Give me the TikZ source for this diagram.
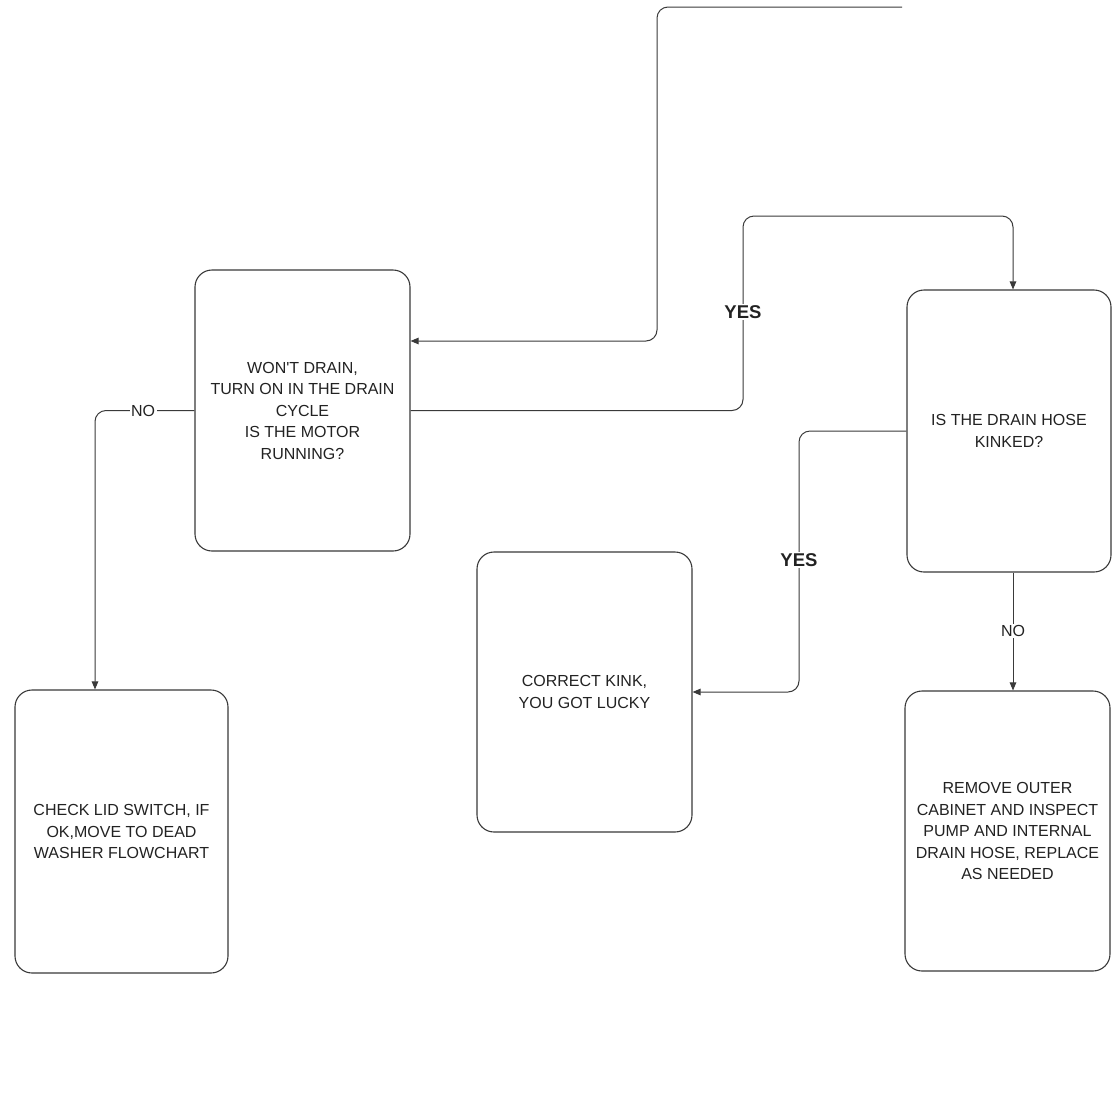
\documentclass[tikz,border=0pt]{standalone}
\usepackage{fontspec}
\setmainfont{Liberation Sans}
\usetikzlibrary{arrows.meta,calc}

\definecolor{ink}{HTML}{222222}
\definecolor{wire}{HTML}{3A3A3A}

\begin{document}
\begin{tikzpicture}[x=1pt,y=-1pt,
  box/.style={draw=wire, line width=1.1pt, rounded corners=17pt, align=center,
    text=ink, font=\fontsize{16}{21.5}\selectfont, inner sep=0pt},
  link/.style={draw=wire, line width=1pt, rounded corners=11pt,
    -{Triangle[length=8pt,width=6.5pt]}},
  yeslab/.style={fill=white, text=ink, inner sep=1.5pt, font=\fontsize{18.5}{20}\bfseries\selectfont},
  nolab/.style={fill=white, text=ink, inner sep=1.5pt, font=\fontsize{16}{18}\selectfont}
]
% canvas
\fill[white] (0,0) rectangle (1112,1101);
\useasboundingbox (0,0) rectangle (1112,1101);

% steps and questions
\node[box, minimum width=215pt, minimum height=281pt] (drain) at (302.5,410.5)
  {WON\textquotesingle T DRAIN,\\TURN ON IN THE DRAIN\\CYCLE\\IS THE MOTOR\\RUNNING?};
\node[box, minimum width=204pt, minimum height=282pt] (hose) at (1009,431)
  {IS THE DRAIN HOSE\\KINKED?};
\node[box, minimum width=215pt, minimum height=280pt] (kink) at (584.5,692)
  {CORRECT KINK,\\YOU GOT LUCKY};
\node[box, minimum width=213pt, minimum height=283pt] (lid) at (121.5,831.5)
  {CHECK LID SWITCH, IF\\OK,MOVE TO DEAD\\WASHER FLOWCHART};
\node[box, minimum width=205pt, minimum height=280pt] (pump) at (1007.5,831)
  {REMOVE OUTER\\CABINET AND INSPECT\\PUMP AND INTERNAL\\DRAIN HOSE, REPLACE\\AS NEEDED};

% routing points
\coordinate (inlet) at (902,7);
\coordinate (inturn) at (657,7);
\coordinate (indrop) at (657,341);
\coordinate (yesup) at (743,216);
\coordinate (kinkdrop) at (799,692);
\coordinate (hosein) at ($(hose.north)+(4,0)$);
\coordinate (hoseout) at ($(hose.south)+(4,0)$);
\coordinate (lidin) at ($(lid.north)+(-26.5,0)$);

% incoming connector from the previous page
\draw[link] (inlet) -- (inturn) -- (indrop) -- (indrop -| drain.east);

% motor running -> drain hose check
\draw[link] (drain.east) -| (yesup) -| (hosein);
\node[yeslab] at (743,312) {YES};

% motor not running -> lid switch
\draw[link] (drain.west) -| (lidin);
\node[nolab] at (143,410.5) {NO};

% hose kinked -> correct kink
\draw[link] (hose.west) -| (kinkdrop) -- (kink.east);
\node[yeslab] at (799,560) {YES};

% hose not kinked -> inspect pump
\draw[link] (hoseout) -- (hoseout |- pump.north);
\node[nolab] at (1013,631) {NO};
\end{tikzpicture}
\end{document}
